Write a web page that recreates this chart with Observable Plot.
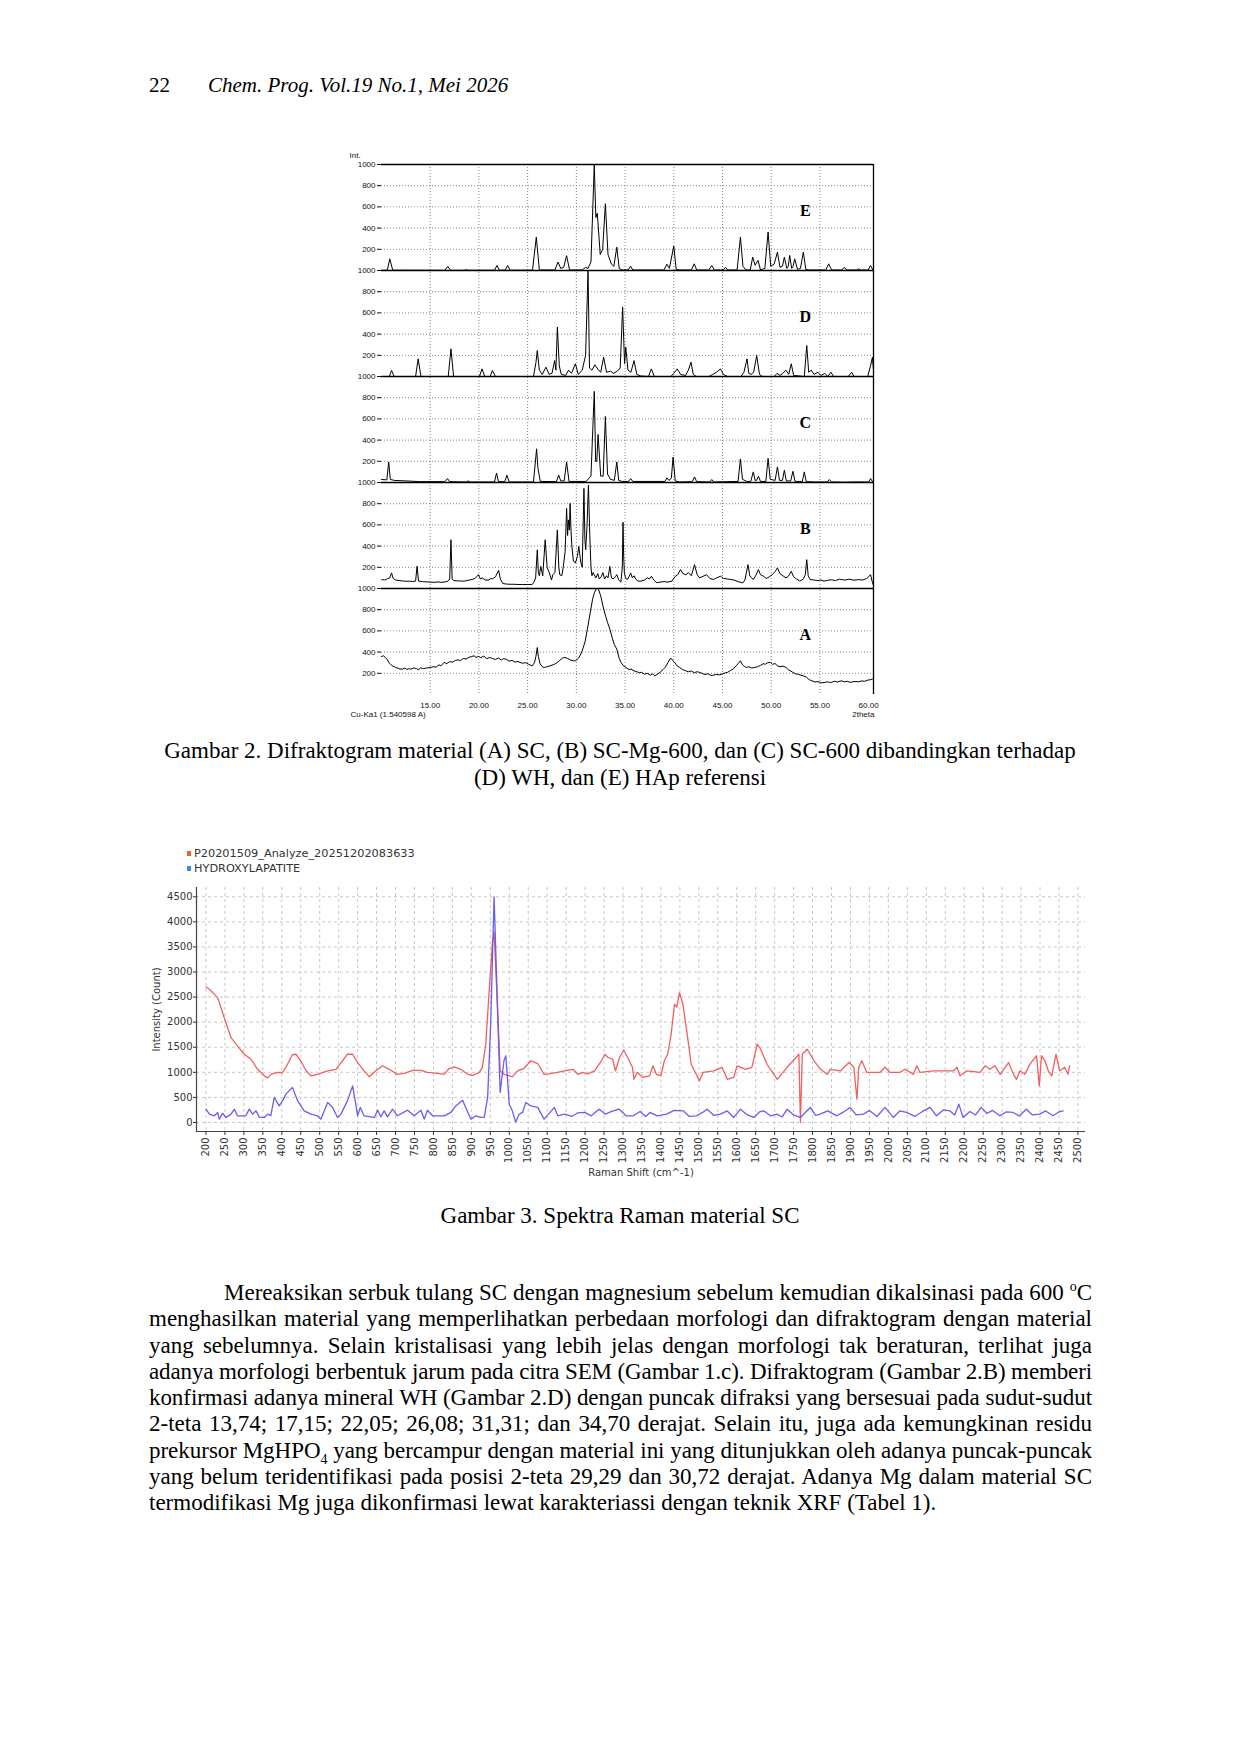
<!DOCTYPE html>
<html>
<head>
<meta charset="utf-8">
<script src="https://cdn.jsdelivr.net/npm/d3@7"></script>
<script src="https://cdn.jsdelivr.net/npm/@observablehq/plot@0.6"></script>
<style>
  html, body { margin: 0; padding: 0; background: #fff; }
  #page { position: relative; width: 1240px; height: 1754px; background: #fff; color: #000;
          font-family: "Liberation Serif", "Times New Roman", serif; overflow: hidden; }
  .hdr { position: absolute; top: 73px; font-size: 21px; line-height: 25px; }
  .cap { position: absolute; left: 0; width: 1240px; text-align: center; font-size: 23px; line-height: 27px; }
  .para { position: absolute; left: 149px; width: 943px; font-size: 23px; line-height: 26.3px; }
  .para .ln { display: block; white-space: nowrap; height: 26.3px; }
  .para .ln span { white-space: nowrap; }
  #xrd { position: absolute; left: 340px; top: 140px; }
  #raman { position: absolute; left: 140px; top: 870px; }
  .leg { position: absolute; left: 187px; font-family: "DejaVu Sans", sans-serif; font-size: 11.3px; color: #333; line-height: 14px; }
  .leg span.sw { display: inline-block; width: 4px; height: 5px; margin-right: 3px; vertical-align: middle; position: relative; top: -1px; }
</style>
</head>
<body>
<div id="page">
  <div class="hdr" style="left:149px;">22</div>
  <div class="hdr" style="left:208px;font-style:italic;">Chem. Prog. Vol.19 No.1, Mei 2026</div>

  <div id="xrd"></div>
  <div class="cap" style="top:737px;">Gambar 2. Difraktogram material (A) SC, (B) SC-Mg-600, dan (C) SC-600 dibandingkan terhadap<br>(D) WH, dan (E) HAp referensi</div>

  <div class="leg" style="top:847px;"><span class="sw" style="background:#e8603c;"></span>P20201509_Analyze_20251202083633</div>
  <div class="leg" style="top:862px;"><span class="sw" style="background:#3b8ee0;"></span>HYDROXYLAPATITE</div>
  <div id="raman"></div>
  <div class="cap" style="top:1202px;">Gambar 3. Spektra Raman material SC</div>

  <div class="para" style="top:1280px;">
    <div class="ln" data-fit="1" data-indent="75"><span>Mereaksikan serbuk tulang SC dengan magnesium sebelum kemudian dikalsinasi pada 600 <sup style="font-size:14px;line-height:0;">o</sup>C</span></div>
    <div class="ln" data-fit="1"><span>menghasilkan material yang memperlihatkan perbedaan morfologi dan difraktogram dengan material</span></div>
    <div class="ln" data-fit="1"><span>yang sebelumnya. Selain kristalisasi yang lebih jelas dengan morfologi tak beraturan, terlihat juga</span></div>
    <div class="ln" data-fit="1"><span>adanya morfologi berbentuk jarum pada citra SEM (Gambar 1.c). Difraktogram (Gambar 2.B) memberi</span></div>
    <div class="ln" data-fit="1"><span>konfirmasi adanya mineral WH (Gambar 2.D) dengan puncak difraksi yang bersesuai pada sudut-sudut</span></div>
    <div class="ln" data-fit="1"><span>2-teta 13,74; 17,15; 22,05; 26,08; 31,31; dan 34,70 derajat. Selain itu, juga ada kemungkinan residu</span></div>
    <div class="ln" data-fit="1"><span>prekursor MgHPO<sub style="font-size:14px;line-height:0;">4</sub> yang bercampur dengan material ini yang ditunjukkan oleh adanya puncak-puncak</span></div>
    <div class="ln" data-fit="1"><span>yang belum teridentifikasi pada posisi 2-teta 29,29 dan 30,72 derajat. Adanya Mg dalam material SC</span></div>
    <div class="ln"><span>termodifikasi Mg juga dikonfirmasi lewat karakteriassi dengan teknik XRF (Tabel 1).</span></div>
  </div>
</div>

<script>
// ---------------- XRD data (2θ in degrees, relative intensity 0–1000 per panel) ----------------
const panelOrder = ["A", "B", "C", "D", "E"];   // bottom to top
const xrdThetaTicks = [15, 20, 25, 30, 35, 40, 45, 50, 55, 60];
const xrdGridTheta = [15, 20, 25, 30, 35, 40, 45, 50, 55];
const xrdIntensityTicks = d3.range(200, 5001, 200);
const xrdLetterTheta = 53.5;
const xrdLetterLevel = 560;

const patternE = [[10,2],[10.6,3],[10.85,110],[11.15,3],[16.5,2],[16.8,38],[17.1,2],[18.5,2],[18.7,8],[18.9,2],
 [21.6,3],[21.85,47],[22.1,3],[22.7,3],[22.95,47],[23.2,3],[25.5,3],[25.89,315],[26.2,5],
 [27.8,5],[28.12,80],[28.4,20],[28.7,30],[29.0,140],[29.3,5],[30.6,5],[30.95,30],[31.2,20],[31.5,80],
 [31.84,1000],[32.0,500],[32.15,540],[32.45,150],[32.7,200],[32.98,630],[33.25,150],[33.6,60],[33.85,40],[34.15,220],[34.4,20],[34.7,5],
 [35.3,5],[35.57,40],[35.8,5],[39.0,5],[39.29,60],[39.55,20],[40.0,230],[40.25,10],[40.6,5],
 [41.8,5],[42.1,63],[42.35,5],[43.6,5],[43.9,47],[44.15,5],[45.05,5],[45.3,30],[45.55,5],
 [46.5,5],[46.84,315],[47.1,40],[47.4,5],[47.85,5],[48.1,126],[48.35,50],[48.65,95],[48.9,5],
 [49.35,20],[49.68,363],[49.95,40],[50.3,60],[50.64,173],[50.9,30],[51.15,40],[51.35,126],[51.6,20],[51.75,40],[51.9,142],[52.1,20],[52.25,40],[52.41,110],[52.7,10],[53.0,20],[53.3,173],[53.55,10],[53.9,5],
 [55.6,5],[55.9,63],[56.2,5],[57.25,5],[57.5,30],[57.75,5],[58.75,5],[58.97,15],[59.2,5],[59.95,5],[60.2,47],[60.45,5],[60.5,5]];

const patternD = [[10,0],[10.8,0],[11.03,57],[11.3,0],[13.5,0],[13.76,167],[14.05,0],[16.85,0],[17.13,261],[17.4,0],
 [20.05,0],[20.32,72],[20.6,0],[21.15,0],[21.38,57],[21.7,0],
 [25.6,0],[25.85,130],[25.99,245],[26.2,60],[26.5,20],[26.88,88],[27.2,20],[27.5,30],[27.77,150],[27.9,60],[28.05,465],[28.25,100],[28.45,20],
 [28.9,10],[29.2,60],[29.5,30],[29.9,120],[30.2,20],[30.6,60],[30.95,200],[31.2,1000],[31.35,80],[31.6,60],[31.9,110],[32.2,70],[32.5,40],[32.8,182],[33.1,40],
 [33.5,50],[33.8,30],[34.2,50],[34.5,80],[34.75,654],[34.95,120],[35.07,277],[35.3,60],[35.6,40],[35.92,150],[36.2,20],[36.6,5],
 [37.4,0],[37.7,72],[38.0,0],[39.7,0],[40.0,30],[40.35,72],[40.7,20],[41.2,10],[41.5,60],[41.77,135],[42.0,20],[42.3,0],
 [43.6,0],[44.0,20],[44.4,40],[44.79,72],[45.1,20],[45.5,0],[46.9,0],[47.2,40],[47.52,167],[47.7,30],[47.95,20],[48.2,40],[48.51,198],[48.8,20],[49.1,0],
 [50.3,0],[50.6,30],[50.9,10],[51.2,30],[51.5,60],[51.8,20],[52.06,120],[52.3,10],[53.4,0],[53.65,292],[53.85,40],[54.1,60],[54.4,20],[54.8,40],[55.1,10],
 [55.5,30],[55.8,0],[56.13,40],[56.4,0],[57.9,0],[58.26,40],[58.5,0],[59.9,0],[60.2,100],[60.39,182],[60.5,60]];

const patternC = [[10,28],[10.55,25],[10.74,194],[10.9,30],[11.3,20],[12.5,15],[14,8],[16.5,8],[16.77,37],[17.0,8],[18.7,5],[18.9,15],[19.1,5],
 [21.6,5],[21.81,90],[22.0,8],[22.65,8],[22.87,69],[23.1,5],[25.6,5],[25.92,318],[26.05,140],[26.3,10],[27.95,8],[28.19,69],[28.4,15],[28.75,15],[29.0,194],[29.25,10],
 [31.0,10],[31.5,60],[31.84,860],[31.98,200],[32.1,200],[32.23,453],[32.5,60],[32.75,60],[32.98,622],[33.2,80],[33.5,30],[33.9,20],[34.15,194],[34.35,20],[34.7,10],
 [35.35,10],[35.57,37],[35.8,10],[39.1,10],[39.29,44],[39.5,20],[39.75,40],[39.93,240],[40.15,15],[40.6,5],[41.9,8],[42.13,53],[42.35,8],[43.7,5],[43.9,28],[44.1,5],
 [46.6,10],[46.84,222],[47.05,30],[47.5,10],[47.9,10],[48.16,100],[48.35,20],[48.5,20],[48.69,60],[48.9,10],[49.45,10],[49.68,228],[49.9,30],[50.4,20],[50.64,147],[50.85,20],
 [51.15,20],[51.35,116],[51.55,15],[52.0,15],[52.23,106],[52.45,10],[53.2,10],[53.4,100],[53.6,8],[54.5,5],[55.75,5],[55.96,28],[56.2,5],[57.5,3],[58.5,5],[60.0,5],[60.2,37],[60.4,8],[60.5,8]];

const patternB = [[10.04,84],[10.3,80],[10.6,92],[10.85,100],[11.03,147],[11.2,95],[11.45,80],[11.8,75],[12.1,72],[12.5,68],[12.87,69],[13.2,66],[13.5,70],[13.65,210],[13.8,70],
 [14.2,65],[14.6,62],[15.0,60],[15.4,58],[15.8,62],[16.1,58],[16.42,60],[16.8,68],[17.0,90],[17.13,460],[17.25,90],[17.4,75],[17.8,72],[18.2,70],[18.55,70],[18.9,78],
 [19.3,85],[19.6,95],[19.96,131],[20.15,90],[20.39,100],[20.6,80],[21.03,80],[21.2,95],[21.38,90],[21.7,110],[22.02,172],[22.2,90],[22.45,47],[22.8,42],[23.2,40],
 [23.51,40],[24.0,38],[24.5,37],[25.0,38],[25.46,37],[25.65,60],[25.82,100],[25.99,365],[26.1,150],[26.2,120],[26.35,209],[26.55,120],[26.8,460],[27.0,200],[27.23,147],
 [27.45,80],[27.59,130],[27.8,150],[28.05,553],[28.2,200],[28.3,130],[28.5,120],[28.65,200],[28.85,350],[29.0,756],[29.1,500],[29.18,647],[29.28,550],[29.36,803],
 [29.45,550],[29.54,400],[29.7,260],[29.9,240],[30.1,300],[30.25,397],[30.45,250],[30.6,200],[30.78,944],[30.88,450],[30.96,365],[31.1,600],[31.24,975],[31.38,500],
 [31.5,200],[31.6,120],[31.72,150],[31.84,130],[32.0,100],[32.2,140],[32.35,90],[32.55,110],[32.73,150],[32.9,90],[33.1,120],[33.25,100],[33.44,209],[33.6,100],
 [33.79,90],[34.0,110],[34.15,131],[34.35,80],[34.57,60],[34.72,200],[34.79,625],[34.86,300],[34.93,150],[35.05,100],[35.21,84],[35.4,110],[35.57,147],[35.75,100],
 [35.92,120],[36.1,90],[36.3,70],[36.63,70],[37.0,80],[37.3,100],[37.5,90],[37.7,116],[37.95,80],[38.23,55],[38.6,60],[39.0,65],[39.4,60],[39.82,70],[40.1,110],
 [40.4,130],[40.7,178],[40.95,140],[41.24,130],[41.5,150],[41.8,120],[42.13,225],[42.4,130],[42.66,100],[43.0,115],[43.37,130],[43.7,95],[44.08,85],[44.4,100],
 [44.79,116],[45.1,95],[45.5,90],[45.85,85],[46.2,80],[46.6,65],[47.09,53],[47.3,80],[47.62,225],[47.8,120],[48.0,100],[48.16,85],[48.4,120],[48.69,178],[48.9,130],
 [49.22,115],[49.5,95],[49.8,110],[50.1,130],[50.4,160],[50.64,194],[50.9,140],[51.2,120],[51.52,100],[51.8,120],[52.06,162],[52.3,110],[52.6,90],[52.94,70],
 [53.3,90],[53.5,130],[53.65,272],[53.8,120],[54.0,85],[54.4,80],[54.8,75],[55.1,80],[55.43,70],[55.8,78],[56.2,82],[56.6,75],[57.0,88],[57.2,84],[57.6,80],
 [58.0,88],[58.5,78],[58.97,84],[59.4,80],[59.8,95],[60.0,110],[60.2,131],[60.35,70],[60.5,30]];

const patternA = [[10.0,358],[10.2,365],[10.4,349],[10.6,330],[10.74,302],[10.9,290],[11.1,270],[11.3,262],[11.45,255],[11.7,248],[11.9,240],[12.16,239],[12.4,250],
 [12.6,236],[12.8,244],[13.0,238],[13.3,250],[13.58,245],[13.8,232],[14.0,252],[14.3,244],[14.6,250],[15.0,255],[15.3,262],[15.6,258],[15.9,280],[16.1,270],[16.42,302],
 [16.7,292],[17.0,310],[17.3,305],[17.6,322],[17.84,327],[18.1,320],[18.4,340],[18.7,335],[19.0,352],[19.26,358],[19.5,365],[19.7,350],[19.96,358],[20.2,348],[20.5,362],
 [20.8,338],[21.1,350],[21.38,340],[21.7,330],[22.0,345],[22.3,325],[22.5,338],[22.8,333],[23.1,315],[23.4,322],[23.7,305],[24.0,312],[24.22,302],[24.5,295],[24.8,300],
 [25.1,285],[25.46,270],[25.7,300],[25.85,360],[25.99,443],[26.1,360],[26.28,290],[26.5,262],[26.7,255],[27.0,262],[27.3,270],[27.6,280],[27.77,286],[28.0,300],[28.3,322],
 [28.6,345],[28.83,349],[29.1,340],[29.4,325],[29.7,318],[29.9,318],[30.2,340],[30.4,370],[30.6,412],[30.9,500],[31.13,616],[31.4,760],[31.67,900],[31.85,960],[32.02,994],
 [32.15,1000],[32.3,987],[32.5,930],[32.73,836],[33.0,740],[33.2,680],[33.44,616],[33.7,530],[33.9,470],[34.15,428],[34.4,340],[34.6,300],[34.86,270],[35.1,255],[35.4,235],
 [35.6,240],[35.92,223],[36.2,215],[36.5,205],[36.7,210],[36.99,192],[37.3,200],[37.6,182],[37.8,195],[38.05,176],[38.3,190],[38.6,210],[38.9,235],[39.11,255],[39.4,300],
 [39.6,335],[39.75,340],[39.9,320],[40.1,300],[40.35,270],[40.6,255],[40.9,235],[41.24,223],[41.5,215],[41.8,222],[42.1,205],[42.4,215],[42.66,208],[42.9,200],[43.2,188],
 [43.5,196],[43.8,180],[44.08,182],[44.4,190],[44.7,185],[45.0,195],[45.3,205],[45.5,208],[45.8,225],[46.1,240],[46.38,270],[46.6,290],[46.84,318],[47.05,280],[47.25,265],
 [47.45,255],[47.7,262],[48.0,250],[48.33,255],[48.6,262],[48.9,275],[49.2,290],[49.4,286],[49.65,300],[49.93,302],[50.15,285],[50.4,292],[50.64,270],[50.9,262],[51.2,268],
 [51.52,255],[51.8,230],[52.0,222],[52.23,208],[52.5,195],[52.8,190],[53.05,182],[53.3,176],[53.6,165],[53.9,140],[54.18,129],[54.5,118],[54.8,122],[55.1,110],[55.43,113],
 [55.8,120],[56.1,112],[56.5,125],[56.8,118],[57.2,129],[57.5,120],[57.8,125],[58.1,115],[58.5,122],[58.97,120],[59.3,128],[59.6,125],[59.9,135],[60.2,140],[60.39,145]];

const xrdPatterns = { A: patternA, B: patternB, C: patternC, D: patternD, E: patternE };

// ---------------- Raman data (shift cm^-1, intensity count) ----------------
const ramanShiftTicks = d3.range(200, 2501, 50);
const ramanCountTicks = d3.range(0, 4501, 500);

const sampleSpectrum = [[200,2700],[209,2656],[231,2490],[248,2090],[266,1690],[283,1527],[301,1360],[319,1260],[336,1060],[354,930],[363,890],[371,960],[389,1000],[402,995],
 [415,1160],[428,1350],[437,1360],[450,1230],[464,1030],[477,930],[494,960],[521,1030],[543,1060],[560,1230],[573,1360],[587,1360],[600,1195],[617,1030],[631,910],
 [648,1030],[666,1130],[683,1060],[705,960],[723,980],[745,1040],[767,1040],[784,1000],[811,980],[828,960],[841,1075],[855,1110],[872,1060],[890,960],[903,940],
 [921,1000],[929,1100],[938,1560],[947,2620],[956,3620],[960,3800],[969,2290],[976,1030],[986,960],[1008,910],[1022,1030],[1039,1080],[1057,1230],[1075,1175],
 [1092,960],[1105,970],[1127,1000],[1146,1030],[1168,1060],[1181,960],[1194,1000],[1207,970],[1225,1030],[1243,1230],[1252,1360],[1260,1300],[1273,1260],[1280,1030],
 [1291,1300],[1302,1440],[1312,1300],[1325,1100],[1329,860],[1338,1000],[1351,900],[1370,930],[1379,1130],[1388,960],[1400,930],[1409,1230],[1418,1360],[1427,1760],
 [1436,2360],[1442,2300],[1449,2590],[1458,2360],[1467,1890],[1480,1160],[1493,960],[1502,830],[1511,1000],[1539,1030],[1561,1100],[1575,860],[1592,900],[1601,1130],
 [1623,1060],[1640,1100],[1654,1560],[1663,1460],[1680,1160],[1698,960],[1707,860],[1733,1100],[1764,1360],[1768,0],[1773,1360],[1786,1460],[1804,1230],[1821,1060],
 [1839,960],[1847,1060],[1874,1030],[1896,1195],[1909,1100],[1917,465],[1922,1100],[1930,1230],[1943,1000],[1978,1000],[1991,1100],[2004,1000],[2031,1000],[2044,1060],
 [2066,960],[2075,1130],[2083,1000],[2119,1030],[2172,1030],[2181,1100],[2189,930],[2207,1030],[2242,1000],[2255,1130],[2268,1060],[2281,1130],[2295,960],[2317,1195],
 [2330,960],[2338,860],[2347,1030],[2360,960],[2373,1160],[2391,1330],[2398,730],[2404,1330],[2413,1230],[2422,1030],[2431,930],[2442,1360],[2452,1030],[2465,1100],
 [2474,960],[2478,1130]];

const referenceSpectrum = [[200,265],[209,166],[222,133],[231,200],[235,66],[244,180],[253,100],[266,166],[275,265],[283,133],[305,133],[314,265],[323,166],[332,232],
 [341,100],[354,100],[363,166],[371,133],[380,500],[393,330],[402,430],[411,565],[428,700],[442,430],[459,232],[477,166],[494,133],[503,66],[521,400],[534,300],
 [547,100],[556,166],[573,430],[587,730],[595,365],[600,133],[607,300],[617,133],[644,100],[653,245],[661,113],[670,232],[679,113],[692,265],[705,133],[732,245],
 [749,133],[767,245],[776,66],[784,245],[798,133],[829,133],[846,200],[859,330],[877,445],[885,300],[899,66],[912,133],[925,100],[934,100],[943,500],[951,1960],
 [960,4500],[969,2290],[976,600],[986,1230],[991,1330],[1000,365],[1008,232],[1017,10],[1026,166],[1035,200],[1044,400],[1057,330],[1075,300],[1092,66],[1119,300],
 [1128,133],[1146,166],[1165,120],[1180,190],[1199,200],[1216,133],[1237,265],[1254,166],[1270,220],[1290,265],[1308,133],[1327,133],[1345,220],[1360,120],[1371,200],
 [1390,130],[1415,166],[1435,240],[1459,232],[1475,120],[1494,133],[1510,200],[1522,265],[1540,140],[1557,166],[1575,230],[1592,100],[1610,265],[1628,150],[1645,100],
 [1660,210],[1671,232],[1690,130],[1706,166],[1720,110],[1733,265],[1750,150],[1768,100],[1794,300],[1808,140],[1820,166],[1840,230],[1864,133],[1880,200],[1899,300],
 [1915,150],[1934,166],[1950,240],[1970,120],[1991,300],[2013,100],[2030,230],[2048,200],[2070,120],[2090,220],[2110,300],[2127,133],[2145,250],[2162,232],[2175,150],
 [2186,365],[2197,100],[2215,220],[2230,150],[2245,300],[2260,180],[2275,240],[2294,133],[2310,210],[2329,200],[2345,130],[2364,265],[2380,150],[2399,166],[2415,230],
 [2434,133],[2450,210],[2461,232]];

// ---------------- XRD stacked plot ----------------
const xrdRows = panelOrder.flatMap((name, i) =>
  xrdPatterns[name].map(([theta, v]) => ({ theta, level: v + i * 1000, panel: name })));
const letterRows = panelOrder.map((name, i) => ({ name, theta: xrdLetterTheta, level: xrdLetterLevel + i * 1000 }));
const boundaries = panelOrder.map((_, i) => (i + 1) * 1000);
const innerGrid = xrdIntensityTicks.filter(d => d % 1000 !== 0);
const xrdTickFormat = d => (d % 1000 === 0 ? "1000" : String(d % 1000));

const xrd = Plot.plot({
  width: 560, height: 594,
  marginLeft: 41, marginRight: 27, marginTop: 24, marginBottom: 40,
  style: { fontFamily: "'Liberation Sans', Arial, sans-serif", fontSize: "8px", color: "#111", background: "transparent", overflow: "visible" },
  x: { domain: [10, 60.5] },
  y: { domain: [0, 5000] },
  marks: [
    Plot.gridX(xrdGridTheta, { stroke: "#777", strokeOpacity: 0.9, strokeDasharray: "1,2" }),
    Plot.gridY(innerGrid, { stroke: "#777", strokeOpacity: 0.9, strokeDasharray: "1,2" }),
    Plot.ruleY(boundaries, { stroke: "#000", strokeWidth: 1.3 }),
    Plot.ruleX([60.5], { stroke: "#000", strokeWidth: 1.3 }),
    Plot.line(xrdRows, { x: "theta", y: "level", z: "panel", stroke: "#000", strokeWidth: 1 }),
    Plot.axisY(xrdIntensityTicks, { tickFormat: xrdTickFormat, tickSize: 4, tickPadding: 2, label: null }),
    Plot.axisX(xrdThetaTicks, { tickFormat: d => d.toFixed(2), tickSize: 0, tickPadding: 8, label: null }),
    Plot.text(letterRows, { x: "theta", y: "level", text: "name", fontFamily: "'Liberation Serif', serif", fontWeight: "bold", fontSize: 16, fill: "#000" }),
    Plot.text(["Int."], { frameAnchor: "top-left", dx: -32, dy: -12, textAnchor: "start", fontSize: 8 }),
    Plot.text(["Cu-Ka1 (1.540598 A)"], { frameAnchor: "bottom-left", dx: -31, dy: 22, textAnchor: "start", fontSize: 8 }),
    Plot.text(["2theta"], { frameAnchor: "bottom-right", dx: 1, dy: 22, textAnchor: "end", fontSize: 8 })
  ]
});
document.getElementById("xrd").appendChild(xrd);

// ---------------- Raman plot ----------------
const sampleRows = sampleSpectrum.map(([shift, count]) => ({ shift, count }));
const referenceRows = referenceSpectrum.map(([shift, count]) => ({ shift, count }));

const raman = Plot.plot({
  width: 955, height: 310,
  marginLeft: 56, marginRight: 10, marginTop: 17, marginBottom: 49,
  style: { fontFamily: "'DejaVu Sans', sans-serif", fontSize: "10px", color: "#333", background: "transparent", overflow: "visible" },
  x: { domain: [175, 2520] },
  y: { domain: [-180, 4685] },
  marks: [
    Plot.gridX(ramanShiftTicks, { stroke: "#c8c8c8", strokeOpacity: 1, strokeDasharray: "3,3" }),
    Plot.gridY(ramanCountTicks, { stroke: "#c8c8c8", strokeOpacity: 1, strokeDasharray: "3,3" }),
    Plot.line(sampleRows, { x: "shift", y: "count", stroke: "#ef6060", strokeWidth: 1.3 }),
    Plot.line(referenceRows, { x: "shift", y: "count", stroke: "#6055ee", strokeWidth: 1.3, strokeOpacity: 0.95 }),
    Plot.ruleX([175], { stroke: "#444", strokeWidth: 1.2 }),
    Plot.ruleY([-180], { stroke: "#444", strokeWidth: 1.2 }),
    Plot.axisY(ramanCountTicks, { tickFormat: "d", tickSize: 3, tickPadding: 1, label: "Intensity (Count)", labelAnchor: "center", labelOffset: 44, labelArrow: "none" }),
    Plot.axisX(ramanShiftTicks, { tickFormat: "d", tickSize: 4, tickPadding: 2, tickRotate: -90, label: "Raman Shift (cm^-1)", labelAnchor: "center", labelOffset: 44, labelArrow: "none" })
  ]
});
document.getElementById("raman").appendChild(raman);

// ---------------- fit each paragraph line to the column (justified) ----------------
const columnWidth = 943;
document.querySelectorAll(".para .ln").forEach(line => {
  const span = line.querySelector("span");
  const indent = +(line.dataset.indent || 0);
  span.style.marginLeft = indent + "px";
  if (!line.dataset.fit) return;
  const target = columnWidth - indent;
  const natural = span.getBoundingClientRect().width;
  const text = span.textContent;
  const spaces = (text.match(/ /g) || []).length;
  if (natural < target && spaces > 0) {
    span.style.wordSpacing = ((target - natural) / spaces) + "px";
  } else if (natural > target) {
    span.style.letterSpacing = ((target - natural) / text.length) + "px";
  }
});
</script>
</body>
</html>
